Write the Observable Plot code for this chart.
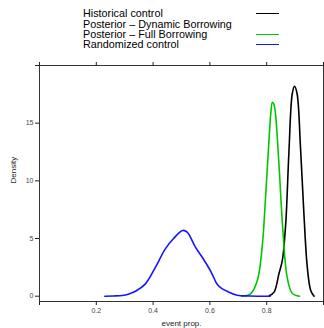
<!DOCTYPE html>
<html>
<head>
<meta charset="utf-8">
<script src="https://cdn.jsdelivr.net/npm/d3@7"></script>
<script src="https://cdn.jsdelivr.net/npm/@observablehq/plot@0.6"></script>
<style>
  html, body { margin: 0; padding: 0; background: #fff; }
  #wrap { width: 324px; font-family: "Liberation Sans", Arial, sans-serif; }
  #legend { position: relative; height: 52px; width: 324px; }
  .row { position: absolute; left: 83px; font-size: 10.8px; line-height: 10.2px; height: 10.2px; color: #000; white-space: nowrap; }
  .key { position: absolute; left: 256px; width: 23px; height: 0; border-top: 1.6px solid; }
</style>
</head>
<body>
<div id="wrap">
  <div id="legend"></div>
  <div id="chart"></div>
</div>
<script>
// ---- data ----
const seriesNames = ["Historical control", "Posterior \u2013 Dynamic Borrowing", "Posterior \u2013 Full Borrowing", "Randomized control"];
const seriesColors = ["#000000", null, "#00c800", "#1515ff"];

const randX = [0.230,0.260,0.291,0.315,0.338,0.373,0.408,0.443,0.472,0.504,0.520,0.549,0.573,0.602,0.614,0.625,0.640,0.661,0.696,0.740,0.812];
const randY = [0,0.02,0.06,0.2,0.43,1.07,2.5,4.1,5.0,5.7,5.55,4.25,3.38,2.2,1.6,1.05,0.7,0.42,0.08,0.02,0];

const fullX = [0.712,0.743,0.767,0.784,0.796,0.808,0.815,0.820,0.826,0.831,0.843,0.857,0.872,0.890,0.916];
const fullY = [0,0.2,1.36,4.25,8.6,13.5,16.0,16.8,16.6,15.8,11.5,5.7,1.65,0.26,0];

const histX = [0.808,0.826,0.843,0.855,0.867,0.878,0.890,0.898,0.907,0.919,0.931,0.943,0.955,0.967];
const histY = [0.02,0.35,1.94,3.1,6.3,12.35,17.55,18.2,17.55,12.9,7.15,2.5,0.5,0];

const xTicks = [0, 0.2, 0.4, 0.6, 0.8, 1.0];
const xLabels = [0.2, 0.4, 0.6, 0.8];
const yTicks = [0, 5, 10, 15, 20];
const yLabels = [0, 5, 10, 15];

// ---- legend ----
const legend = document.getElementById("legend");
seriesNames.forEach((name, i) => {
  const row = document.createElement("div");
  row.className = "row";
  row.style.top = (8.3 + i * 10.3) + "px";
  row.textContent = name;
  legend.appendChild(row);
  if (seriesColors[i]) {
    const k = document.createElement("div");
    k.className = "key";
    k.style.top = (13.3 + i * 10.3) + "px";
    k.style.borderTopColor = seriesColors[i];
    legend.appendChild(k);
  }
});

// ---- chart ----
const rows = [];
const add = (xs, ys, s) => xs.forEach((x, i) => rows.push({x, y: ys[i], s}));
add(histX, histY, seriesNames[0]);
add(fullX, fullY, seriesNames[2]);
add(randX, randY, seriesNames[3]);

const fmtX = d => xLabels.includes(d) ? d3.format(".1f")(d) : "";
const fmtY = d => yLabels.includes(d) ? String(d) : "";

const plot = Plot.plot({
  width: 324,
  height: 276,
  marginTop: 13,
  marginBottom: 27,
  marginLeft: 39,
  marginRight: 1,
  style: {fontFamily: "Liberation Sans, Arial, sans-serif", background: "#fff"},
  x: {domain: [0, 1]},
  y: {domain: [-0.46, 20.0]},
  color: {domain: [seriesNames[0], seriesNames[2], seriesNames[3]], range: [seriesColors[0], seriesColors[2], seriesColors[3]]},
  marks: [
    Plot.frame({stroke: "#333", strokeWidth: 1}),
    Plot.axisX({anchor: "bottom", ticks: xTicks, tickSize: 4, tickFormat: fmtX, fontSize: 7, fill: "#444", stroke: "#222", tickPadding: 3, label: null}),
    Plot.axisX({anchor: "top", ticks: xTicks, tickSize: 4, tickFormat: () => "", stroke: "#222", label: null}),
    Plot.axisY({anchor: "left", ticks: yTicks, tickSize: 4, tickFormat: fmtY, fontSize: 7, fill: "#444", stroke: "#222", tickPadding: 2, label: null}),
    Plot.axisY({anchor: "right", ticks: yTicks, tickSize: 4, tickFormat: () => "", stroke: "#222", label: null}),
    Plot.line(rows, {x: "x", y: "y", z: "s", stroke: "s", strokeWidth: 1.6, curve: "catmull-rom"}),
    Plot.text(["event prop."], {frameAnchor: "bottom", dy: 24, fontSize: 8, fill: "#222"}),
    Plot.text(["Density"], {frameAnchor: "left", dx: -26, rotate: -90, fontSize: 8, fill: "#222"})
  ]
});
document.getElementById("chart").appendChild(plot);
</script>
</body>
</html>
